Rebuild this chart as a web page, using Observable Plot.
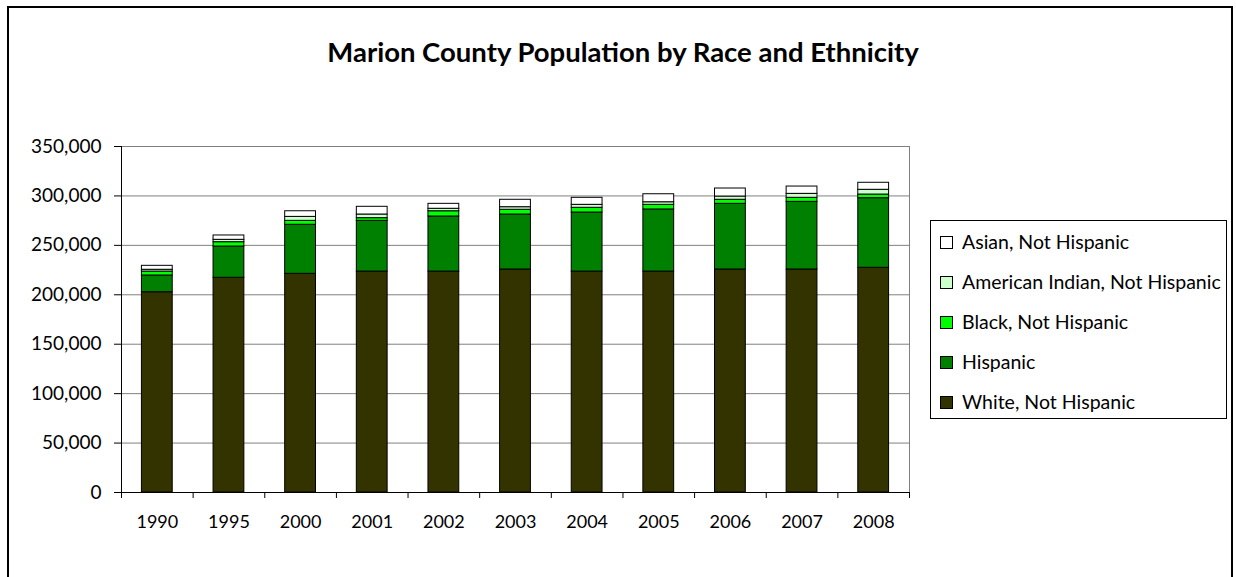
<!DOCTYPE html>
<html><head><meta charset="utf-8">
<script src="https://cdn.jsdelivr.net/npm/d3@7"></script>
<script src="https://cdn.jsdelivr.net/npm/@observablehq/plot@0.6"></script>
<style>
body{margin:0;background:#fff;font-family:Lato,"Open Sans",sans-serif;color:#000;}
#wrap{position:relative;width:1236px;height:577px;overflow:hidden;background:#fff;}
#border{position:absolute;left:7px;top:6px;width:1226px;height:640px;border:2.5px solid #000;box-sizing:border-box;}
#title{position:absolute;left:8px;width:1230px;top:36px;text-align:center;font-weight:bold;font-size:27.5px;line-height:32px;}
#chart{position:absolute;left:0;top:0;}
#legend{position:absolute;left:930px;top:220px;width:297px;height:199px;border:1px solid #000;box-sizing:border-box;background:#fff;}
.item{position:absolute;left:0;height:22px;line-height:22px;font-size:19.5px;white-space:nowrap;}
.sw{position:absolute;left:9px;top:4.5px;width:13px;height:13px;border:1px solid #000;box-sizing:border-box;}
.lab{position:absolute;left:31px;top:0;}
</style>
</head><body>
<div id="wrap">
  <div id="border"></div>
  <div id="chart"></div>
  <div id="title">Marion County Population by Race and Ethnicity</div>
  <div id="legend"></div>
</div>
<script>
// Data
const years = ["1990","1995","2000","2001","2002","2003","2004","2005","2006","2007","2008"];
const white      = [202600, 217200, 221200, 223500, 223500, 225600, 223500, 223500, 225600, 225600, 227300];
const hispanic   = [16900, 31600, 49600, 51300, 55700, 55600, 59700, 62800, 66400, 68400, 70400];
const black      = [4000, 4400, 4000, 2700, 5300, 4800, 4800, 4700, 4100, 4100, 3700];
const amerIndian = [1800, 2400, 4000, 3700, 2500, 2600, 3000, 2600, 3300, 4000, 4800];
const asian      = [4000, 4400, 5700, 7800, 5000, 7500, 7100, 8100, 8100, 7400, 7100];
const groups = ["White, Not Hispanic","Hispanic","Black, Not Hispanic","American Indian, Not Hispanic","Asian, Not Hispanic"];
const colors = ["#333300","#008000","#00FF00","#CCFFCC","#FFFFFF"];
const yTicks = [0, 50000, 100000, 150000, 200000, 250000, 300000, 350000];

const series = [white, hispanic, black, amerIndian, asian];
const rows = [];
groups.forEach((g, gi) => years.forEach((yr, i) => rows.push({year: yr, group: g, value: series[gi][i]})));

const W = 1236, H = 577, mL = 121, mR = 327, mT = 146, mB = 85;
const step = (W - mL - mR) / years.length;

const chart = Plot.plot({
  width: W, height: H,
  marginLeft: mL, marginRight: mR, marginTop: mT, marginBottom: mB,
  style: {fontFamily: "Lato, 'Open Sans', sans-serif", fontSize: "19px", background: "transparent", color: "#000"},
  x: {domain: years, paddingInner: 0.57, paddingOuter: 0.285, round: false},
  y: {domain: [0, 350000]},
  color: {domain: groups, range: colors},
  marks: [
    Plot.gridY(yTicks, {stroke: "#808080", strokeOpacity: 1, strokeWidth: 1}),
    Plot.frame({stroke: "#808080", strokeWidth: 1}),
    Plot.barY(rows, {x: "year", y: "value", fill: "group", stroke: "#000", strokeWidth: 1}),
    Plot.ruleY([0], {stroke: "#000", strokeWidth: 1}),
    Plot.ruleX([years[0]], {x: d => d, dx: -step / 2, y1: 0, y2: 350000, stroke: "#000", strokeWidth: 1}),
    Plot.ruleX(years, {x: d => d, dx: -step / 2, y1: 0, y2: 0, insetBottom: -6, stroke: "#000"}),
    Plot.ruleX([years[years.length - 1]], {x: d => d, dx: step / 2, y1: 0, y2: 0, insetBottom: -6, stroke: "#000"}),
    Plot.axisY({ticks: yTicks, tickSize: 7, tickPadding: 13, tickFormat: d3.format(","), fontSize: 19, label: null, stroke: "#000"}),
    Plot.axisX({tickSize: 0, tickPadding: 23, fontSize: 18, label: null})
  ]
});
document.getElementById("chart").appendChild(chart);

// Legend (top entry = top of stack)
const legend = document.getElementById("legend");
const order = [4, 3, 2, 1, 0];
order.forEach((gi, k) => {
  const it = document.createElement("div");
  it.className = "item";
  it.style.top = (10 + 40 * k) + "px";
  const sw = document.createElement("div");
  sw.className = "sw";
  sw.style.background = colors[gi];
  const lab = document.createElement("div");
  lab.className = "lab";
  lab.textContent = groups[gi];
  it.appendChild(sw); it.appendChild(lab);
  legend.appendChild(it);
});
</script>
</body></html>
